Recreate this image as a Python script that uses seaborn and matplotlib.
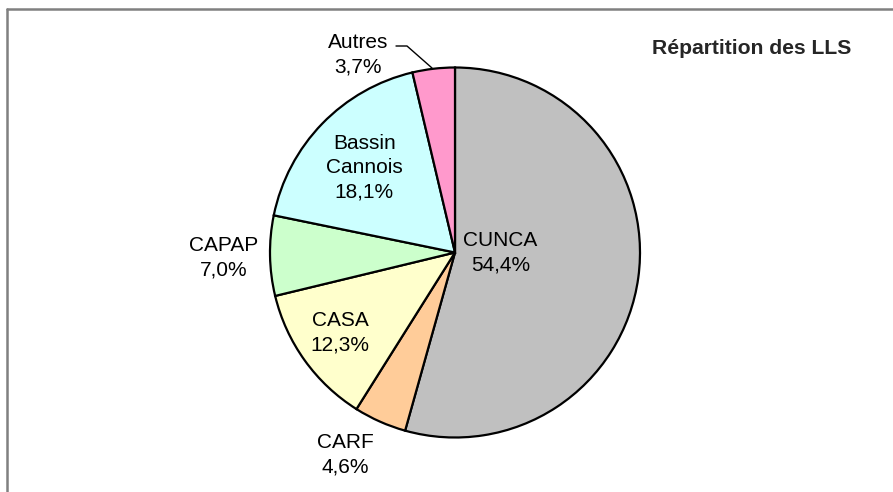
import matplotlib
matplotlib.use("Agg")
from matplotlib import pyplot as plt
from matplotlib.lines import Line2D
import seaborn as sns

# data
segments = ["CUNCA", "CARF", "CASA", "CAPAP", "Bassin\nCannois", "Autres"]
shares = [54.4, 4.6, 12.3, 7.0, 18.1, 3.7]
colours = ["#C0C0C0", "#FFCC99", "#FFFFCC", "#CCFFCC", "#CCFFFF", "#FF99CC"]
title = "Répartition des LLS"

# where each label sits (in pie radius units)
label_pos = [(0.245, 0.0), (-0.595, -1.095), (-0.62, -0.435),
             (-1.25, -0.03), (-0.49, 0.46), (-0.525, 1.07)]

sns.set_theme(style="white")
plt.rcParams['font.family'] = ['Liberation Sans', 'DejaVu Sans']

fig = plt.figure(figsize=(8.93, 4.92), dpi=100)
W, H = 893, 492
cx, cy, r = 455, 252.5, 185
ax = fig.add_axes([(cx - r) / W, (H - cy - r) / H, 2 * r / W, 2 * r / H])

ax.pie(shares, colors=colours, startangle=90, counterclock=False, radius=1,
       wedgeprops={'edgecolor': 'black', 'linewidth': 1.6})
ax.set_xlim(-1, 1)
ax.set_ylim(-1, 1)
ax.set_aspect('equal')
ax.axis('off')

for name, val, (x, y) in zip(segments, shares, label_pos):
    txt = name + "\n" + f"{val:.1f}".replace(".", ",") + "%"
    ax.text(x, y, txt, ha='center', va='center', fontsize=15,
            linespacing=1.35, color='black', clip_on=False)

# leader line for Autres
def to_data(px, py):
    return (px - cx) / r, (cy - py) / r

pts = [to_data(396, 46), to_data(407, 46), to_data(432, 68)]
ax.plot([p[0] for p in pts], [p[1] for p in pts], color='black', lw=1.0,
        clip_on=False)

fig.text(752 / W, 1 - 48 / H, title, ha='center', va='center',
         fontsize=15.2, fontweight='bold')

# chart frame (only top and left edges are inside the picture)
fig.add_artist(Line2D([7 / W, 1], [1 - 8.5 / H, 1 - 8.5 / H],
                      transform=fig.transFigure, color='#808080', lw=1.8))
fig.add_artist(Line2D([7 / W, 7 / W], [0, 1 - 8.5 / H],
                      transform=fig.transFigure, color='#808080', lw=1.8))

fig.savefig("out.png", dpi=100, facecolor='white')
